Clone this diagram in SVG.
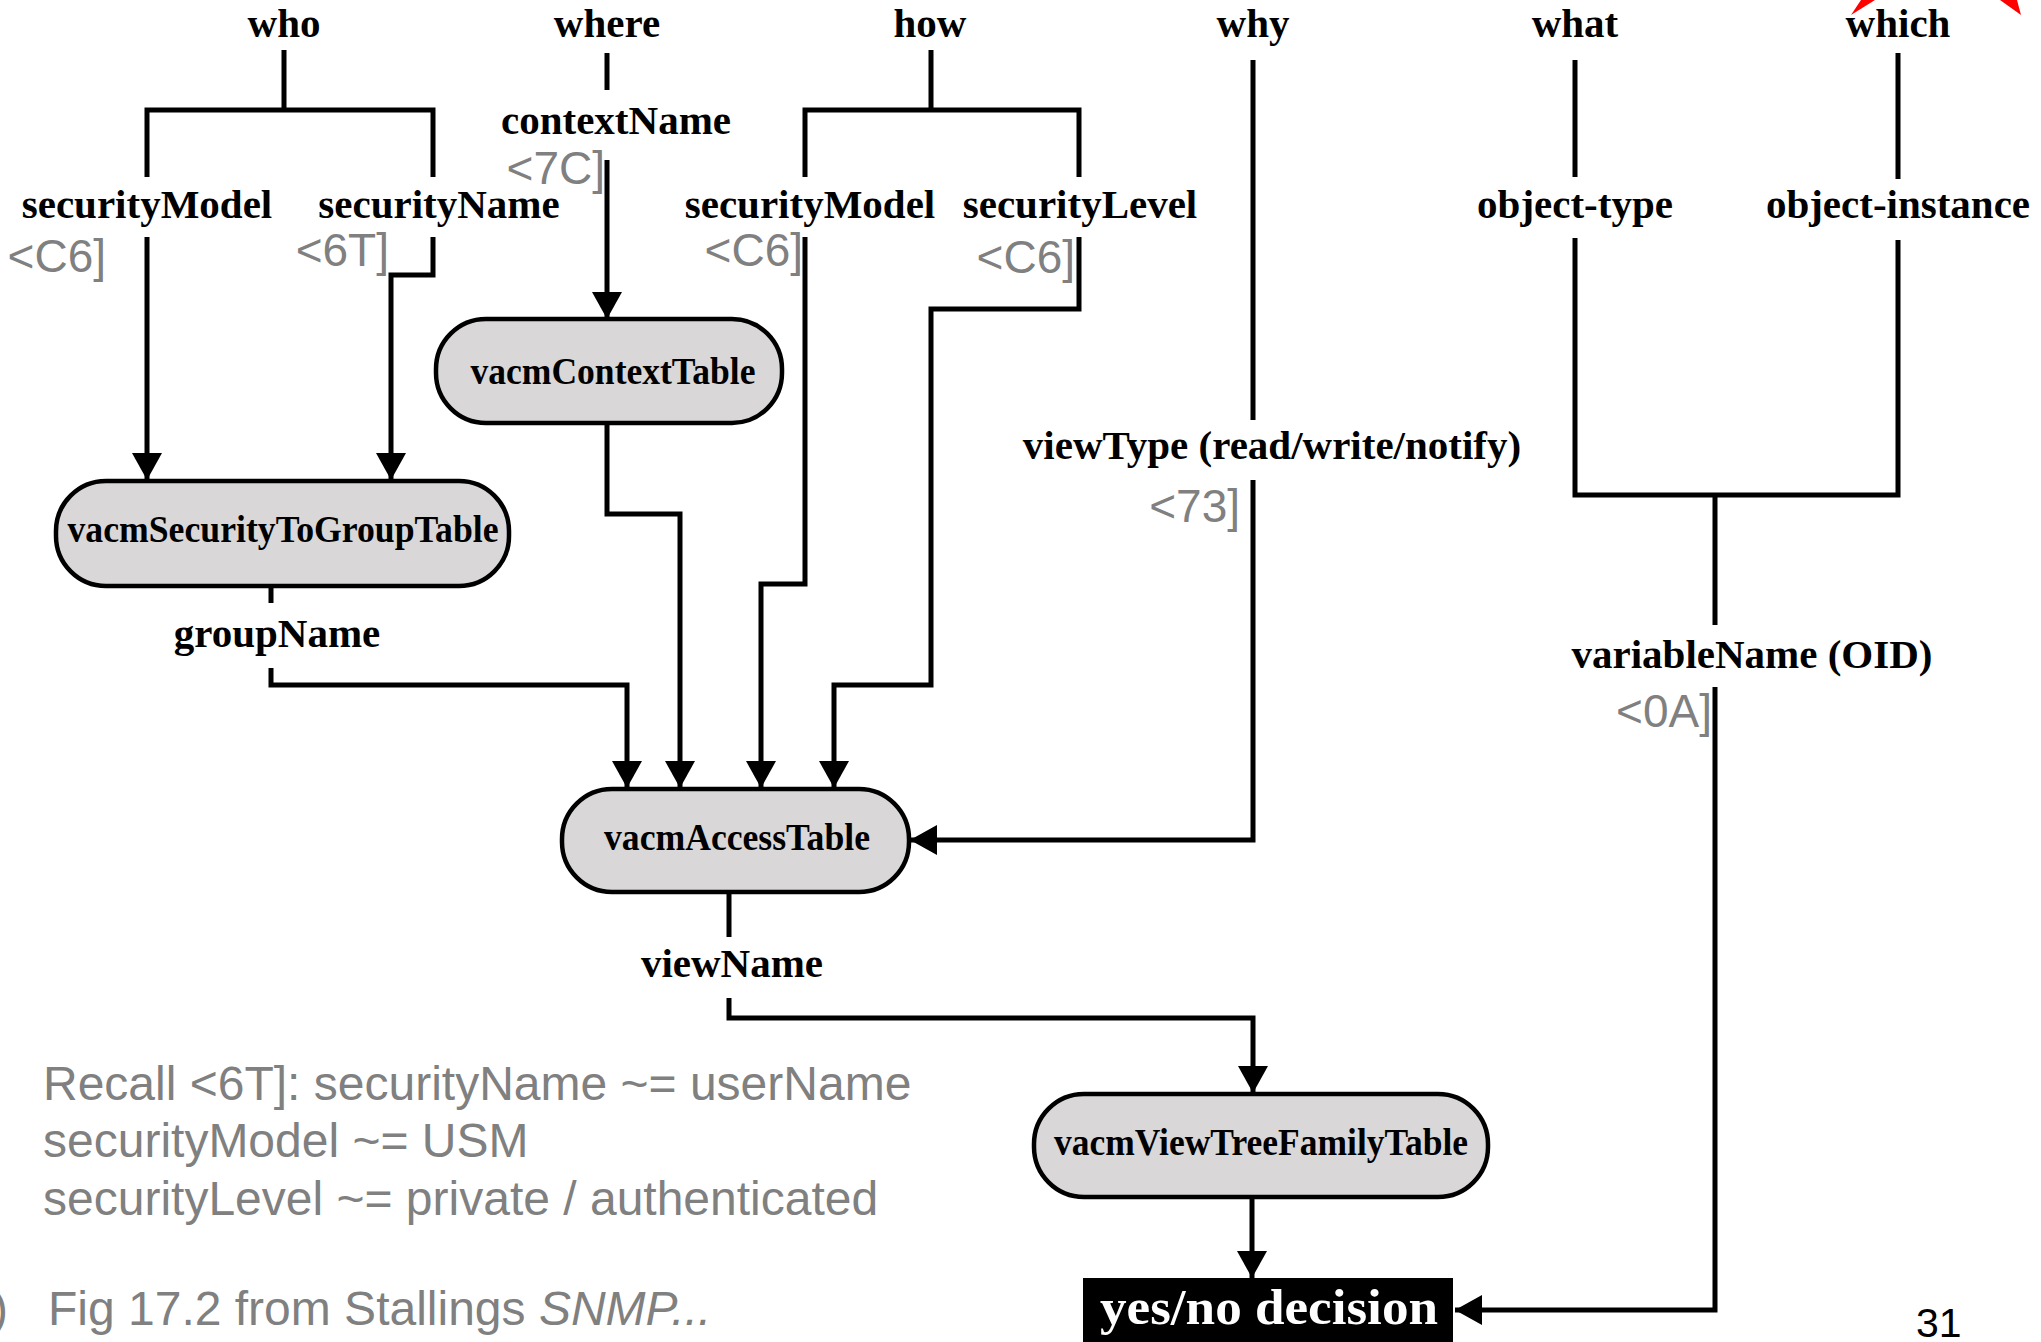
<svg xmlns="http://www.w3.org/2000/svg" width="2041" height="1342" viewBox="0 0 2041 1342">
<style>
.lbl{font-family:"Liberation Serif","Times New Roman",serif;font-weight:bold;font-size:41px;fill:#000;text-anchor:middle}
.nlbl{font-family:"Liberation Serif","Times New Roman",serif;font-weight:bold;font-size:37px;fill:#000;text-anchor:middle}
.tag{font-family:"Liberation Sans",Arial,sans-serif;font-size:46px;fill:#808080;text-anchor:end}
.note{font-family:"Liberation Sans",Arial,sans-serif;font-size:48px;fill:#808080}
.node{fill:#d9d7d8;stroke:#000;stroke-width:4.5}
.wire{fill:none;stroke:#000;stroke-width:5;stroke-linejoin:miter}
.arr{marker-end:url(#ah)}
</style>
<defs>
<marker id="ah" markerUnits="userSpaceOnUse" markerWidth="28" markerHeight="30" refX="27" refY="15" orient="auto">
<path d="M0,0 L27,15 L0,30 Z" fill="#000"/>
</marker>
</defs>
<rect x="0" y="0" width="2041" height="1342" fill="#fff"/>

<!-- red marks -->
<polygon points="1851,15 1861,0 1875,0" fill="#ff0000"/>
<polygon points="2000,0 2017,0 2021,15" fill="#ff0000"/>

<!-- connectors -->
<g id="connectors">
<path class="wire" d="M284,50 V110 M147,177 V110 H433 V177"/>
<path class="wire arr" d="M147,237 V480"/>
<path class="wire arr" d="M433,237 V275 H391 V480"/>
<path class="wire" d="M607,53 V90"/>
<path class="wire arr" d="M607,160 V319"/>
<path class="wire arr" d="M607,424 V514 H680 V788"/>
<path class="wire" d="M271,586 V603"/>
<path class="wire arr" d="M271,668 V685 H627 V788"/>
<path class="wire" d="M931,50 V110 M805,177 V110 H1079 V177"/>
<path class="wire arr" d="M805,237 V584 H761 V788"/>
<path class="wire arr" d="M1079,237 V309 H931 V685 H834 V788"/>
<path class="wire" d="M1253,60 V420"/>
<path class="wire arr" d="M1253,480 V840 H910"/>
<path class="wire" d="M1575,60 V177 M1898,53 V179"/>
<path class="wire" d="M1575,238 V495 H1898 V240 M1715,495 V625"/>
<path class="wire arr" d="M1715,687 V1310 H1455"/>
<path class="wire" d="M729,892 V937"/>
<path class="wire arr" d="M729,998 V1018 H1253 V1093"/>
<path class="wire arr" d="M1252,1197 V1278"/>
</g>

<!-- labels -->
<g id="labels">
<text class="lbl" x="284" y="37">who</text>
<text class="lbl" x="607" y="37">where</text>
<text class="lbl" x="930" y="37">how</text>
<text class="lbl" x="1253" y="37">why</text>
<text class="lbl" x="1575" y="37">what</text>
<text class="lbl" x="1898" y="37">which</text>

<text class="lbl" x="147" y="218">securityModel</text>
<text class="lbl" x="439" y="218">securityName</text>
<text class="lbl" x="616" y="134">contextName</text>
<text class="lbl" x="810" y="218">securityModel</text>
<text class="lbl" x="1080" y="218">securityLevel</text>
<text class="lbl" x="1575" y="218">object-type</text>
<text class="lbl" x="1898" y="218">object-instance</text>
<text class="lbl" x="1272" y="459">viewType (read/write/notify)</text>
<text class="lbl" x="1752" y="668">variableName (OID)</text>
<text class="lbl" x="277" y="647">groupName</text>
<text class="lbl" x="732" y="977">viewName</text>

<text class="tag" x="106" y="272">&lt;C6]</text>
<text class="tag" x="389" y="266">&lt;6T]</text>
<text class="tag" x="605" y="184">&lt;7C]</text>
<text class="tag" x="803" y="266">&lt;C6]</text>
<text class="tag" x="1075" y="273">&lt;C6]</text>
<text class="tag" x="1240" y="522">&lt;73]</text>
<text class="tag" x="1712" y="727">&lt;0A]</text>
</g>

<!-- nodes -->
<g id="vacmSecurityToGroupTable">
<rect class="node" x="56" y="481" width="453" height="105" rx="50" ry="50"/>
<text class="nlbl" x="283" y="542" textLength="431" lengthAdjust="spacingAndGlyphs">vacmSecurityToGroupTable</text>
</g>
<g id="vacmContextTable">
<rect class="node" x="436" y="319" width="346" height="104" rx="50" ry="50"/>
<text class="nlbl" x="613" y="384" textLength="285" lengthAdjust="spacingAndGlyphs">vacmContextTable</text>
</g>
<g id="vacmAccessTable">
<rect class="node" x="562" y="789" width="347" height="103" rx="50" ry="50"/>
<text class="nlbl" x="737" y="850" textLength="266" lengthAdjust="spacingAndGlyphs">vacmAccessTable</text>
</g>
<g id="vacmViewTreeFamilyTable">
<rect class="node" x="1034" y="1094" width="454" height="103" rx="50" ry="50"/>
<text class="nlbl" x="1261" y="1155" textLength="414" lengthAdjust="spacingAndGlyphs">vacmViewTreeFamilyTable</text>
</g>
<g id="decision">
<rect x="1083" y="1278" width="370" height="70" fill="#000"/>
<text x="1269" y="1324" font-family="Liberation Serif, Times New Roman, serif" font-weight="bold" font-size="50" fill="#fff" text-anchor="middle" textLength="338" lengthAdjust="spacingAndGlyphs">yes/no decision</text>
</g>

<!-- notes -->
<g id="notes">
<text class="note" x="43" y="1100">Recall &lt;6T]: securityName ~= userName</text>
<text class="note" x="43" y="1157">securityModel ~= USM</text>
<text class="note" x="43" y="1215">securityLevel ~= private / authenticated</text>
<text class="note" x="-8" y="1325">)</text>
<text class="note" x="48" y="1325">Fig 17.2 from Stallings <tspan font-style="italic">SNMP...</tspan></text>
<text x="1916" y="1337" font-family="Liberation Sans, Arial, sans-serif" font-size="41" fill="#000">31</text>
</g>
</svg>
